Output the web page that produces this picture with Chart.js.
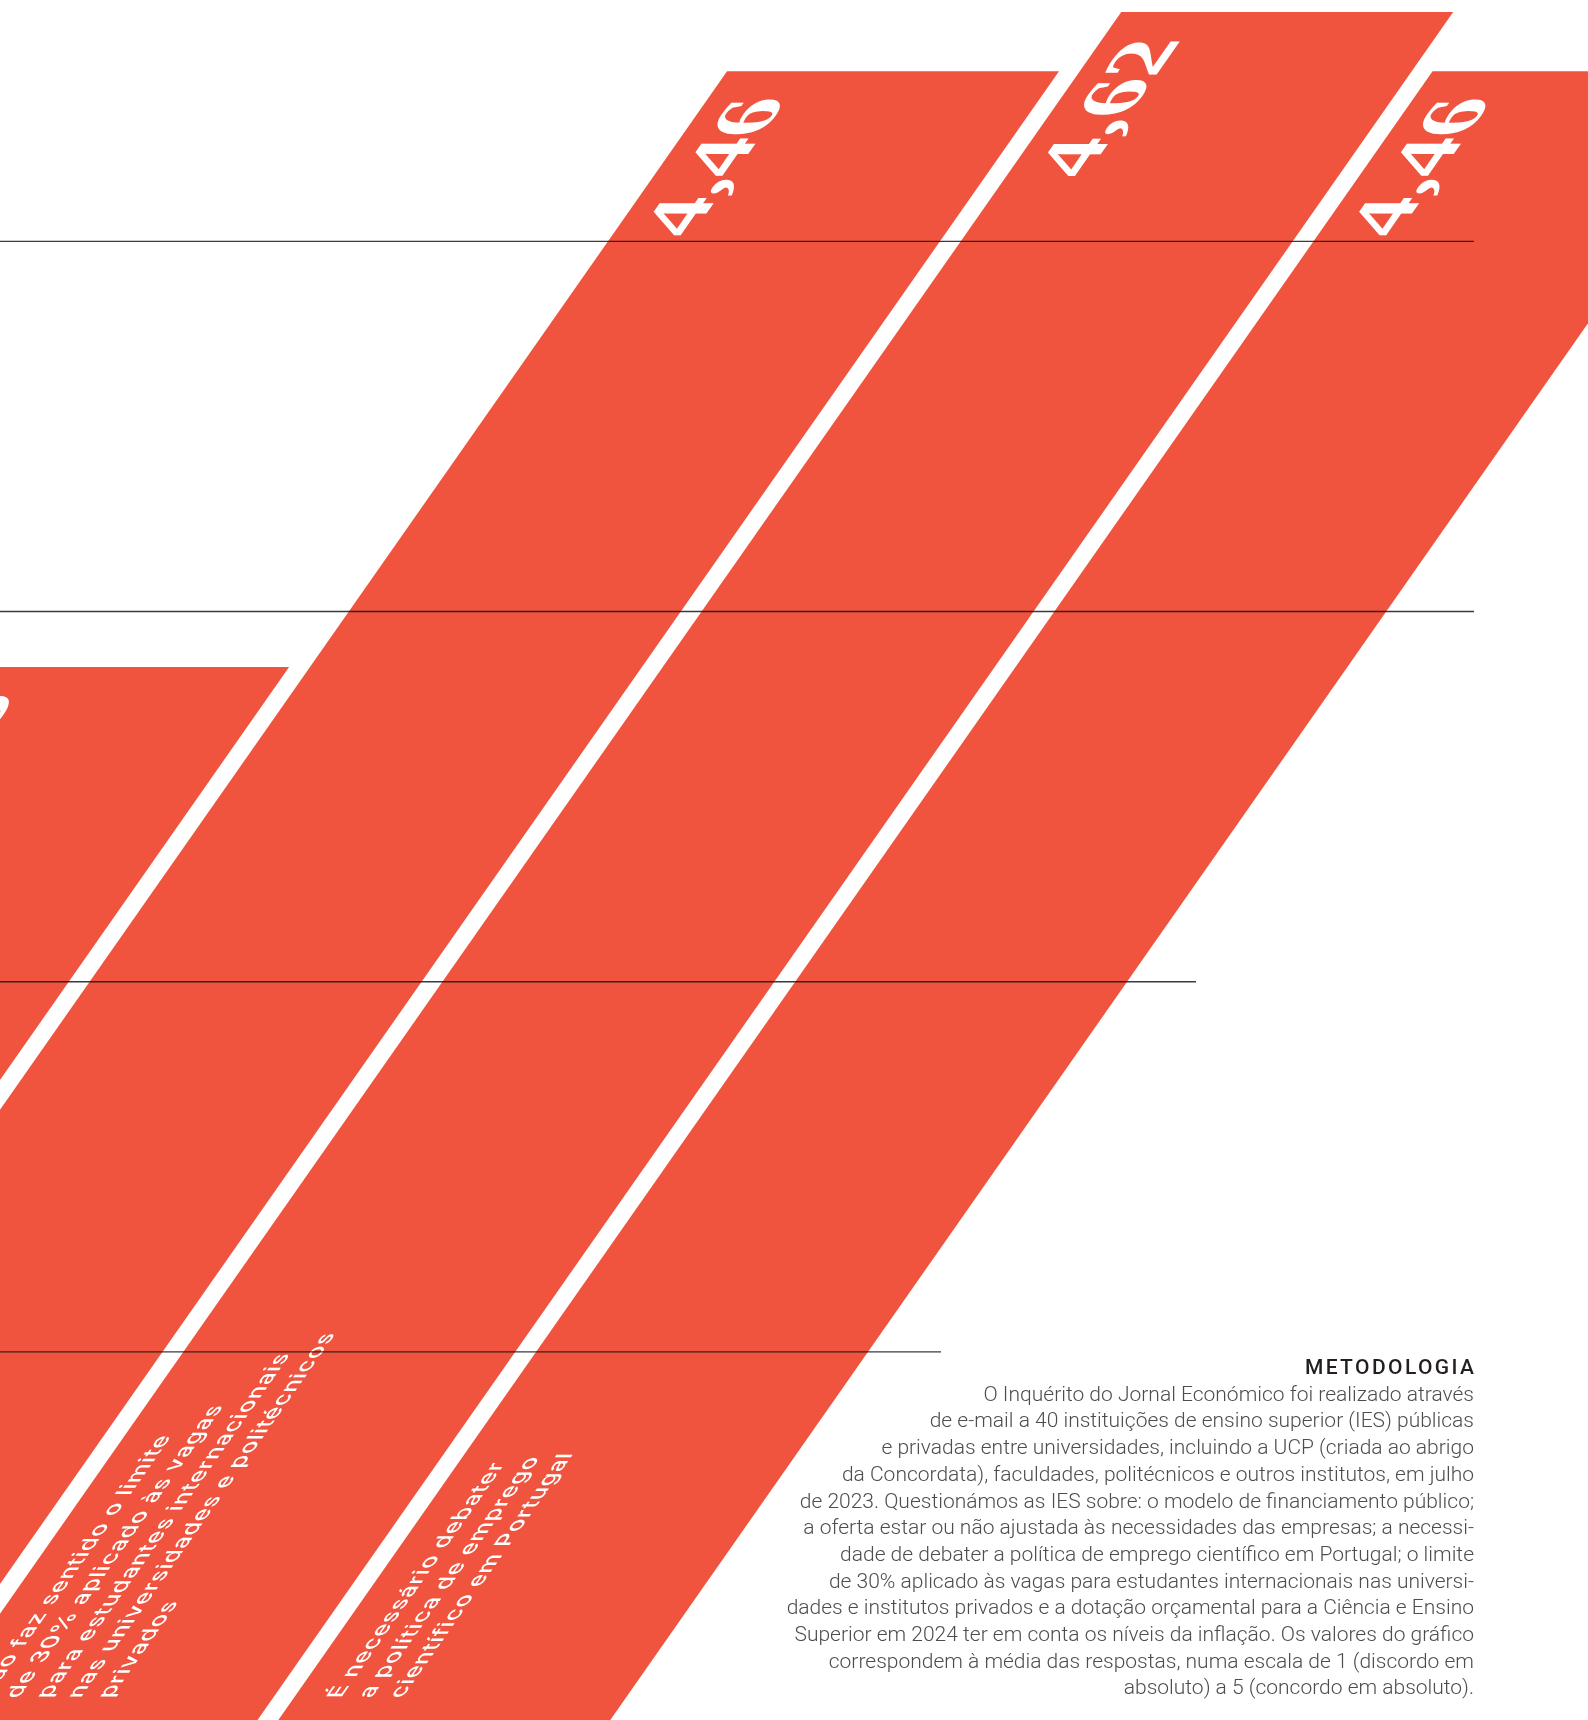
<!DOCTYPE html>
<html lang="pt">
<head>
<meta charset="utf-8">
<title>Inquérito JE — IES</title>
<script src="https://cdn.jsdelivr.net/npm/chart.js@4.4.1/dist/chart.umd.min.js"></script>
<style>
  html, body { margin: 0; padding: 0; background: #fff; overflow: hidden; }
  body { width: 1588px; height: 1720px; position: relative; }
  #chart { position: absolute; left: 0; top: 0; }
  .note { position: absolute; right: 114px; white-space: nowrap; text-align: right; }
  .note h4 {
    margin: 0 -2.4px 0 0; font: 500 21px/26.7px Roboto, sans-serif;
    letter-spacing: 2.4px; color: #231f20;
  }
  .note p {
    margin: 0; font: 300 21px/26.7px Roboto, sans-serif;
    letter-spacing: 0; color: #4d4d4f;
  }
</style>
</head>
<body>
<canvas id="chart" width="1588" height="1722"></canvas>

<div class="note" style="top:1354px">
  <h4>METODOLOGIA</h4>
  <p id="noteText"></p>
</div>

<script>
// data — average answers, scale 1 (discordo) .. 5 (concordo)
const categories = [
  ['O modelo de financiamento', 'público é adequado'],
  ['A dotação orçamental deve ter', 'em conta os níveis da inflação'],
  ['Não faz sentido o limite', 'de 30% aplicado às vagas', 'para estudantes internacionais',
   'nas universidades e politécnicos', 'privados'],
  ['É necessário debater', 'a política de emprego', 'científico em Portugal']
];
const values = [2.85, 4.46, 4.62, 4.46];
const gridValues = [4, 3, 2, 1];

const noteLines = [
  'O Inquérito do Jornal Económico foi realizado através',
  'de e-mail a 40 instituições de ensino superior (IES) públicas',
  'e privadas entre universidades, incluindo a UCP (criada ao abrigo',
  'da Concordata), faculdades, politécnicos e outros institutos, em julho',
  'de 2023. Questionámos as IES sobre: o modelo de financiamento público;',
  'a oferta estar ou não ajustada às necessidades das empresas; a necessi-',
  'dade de debater a política de emprego científico em Portugal; o limite',
  'de 30% aplicado às vagas para estudantes internacionais nas universi-',
  'dades e institutos privados e a dotação orçamental para a Ciência e Ensino',
  'Superior em 2024 ter em conta os níveis da inflação. Os valores do gráfico',
  'correspondem à média das respostas, numa escala de 1 (discordo em',
  'absoluto) a 5 (concordo em absoluto).'
];

// layout / style
const RED = '#f0533e';
const SKEW = -0.7;          // x shift per px of height
const SHIFT = 393.7;
const GRID_ENDS = [1474, 1474, 1196, 941];

document.getElementById('noteText').innerHTML = noteLines.join('<br>');

const fmt = v => v.toFixed(2).replace('.', ',');

const slantPlugin = {
  id: 'slant',
  beforeDatasetsDraw(chart) {
    chart.ctx.save();
    chart.ctx.transform(1, 0, SKEW, 1, SHIFT, 0);
  },
  afterDatasetsDraw(chart) {
    const ctx = chart.ctx;
    const base = chart.scales.y.getPixelForValue(0);
    chart.getDatasetMeta(0).data.forEach((bar, i) => {
      const left = bar.x - bar.width / 2;

      // value, reading upwards near the top
      ctx.save();
      ctx.translate(left + 79, bar.y + 26);
      ctx.rotate(-Math.PI / 2);
      ctx.scale(0.97, 1);
      ctx.font = 'bold 82px "Liberation Serif", serif';
      ctx.fillStyle = '#fff';
      ctx.textAlign = 'right';
      ctx.textBaseline = 'alphabetic';
      ctx.fillText(fmt(values[i]), 0, 0);
      ctx.restore();

      // category, lines stacked sideways from the base
      categories[i].forEach((line, j) => {
        ctx.save();
        ctx.translate(left + 47 + j * 30.8, base - 24);
        ctx.rotate(-Math.PI / 2);
        ctx.font = '500 22px Inter, sans-serif';
        ctx.letterSpacing = '0.7px';
        ctx.fillStyle = '#fff';
        ctx.textAlign = 'left';
        ctx.textBaseline = 'alphabetic';
        ctx.fillText(line, 0, 0);
        ctx.restore();
      });
    });
    ctx.restore();

    // horizontal rules at whole values, not slanted
    ctx.save();
    ctx.strokeStyle = 'rgba(25,25,25,0.85)';
    ctx.lineWidth = 1.4;
    gridValues.forEach((v, i) => {
      const y = chart.scales.y.getPixelForValue(v);
      ctx.beginPath();
      ctx.moveTo(0, y);
      ctx.lineTo(GRID_ENDS[i], y);
      ctx.stroke();
    });
    ctx.restore();
  }
};

new Chart(document.getElementById('chart'), {
  type: 'bar',
  data: {
    labels: categories,
    datasets: [{
      data: values,
      backgroundColor: RED,
      borderWidth: 0,
      barPercentage: 0.941,
      categoryPercentage: 1,
      clip: false
    }]
  },
  options: {
    responsive: false,
    animation: false,
    devicePixelRatio: 1,
    layout: { padding: { left: 20, right: 157, top: 0.8, bottom: 0 } },
    plugins: { legend: { display: false }, tooltip: { enabled: false } },
    scales: {
      x: { display: false, grid: { display: false } },
      y: { display: false, min: 0, max: 4.65, grid: { display: false } }
    }
  },
  plugins: [slantPlugin]
});
</script>
</body>
</html>
